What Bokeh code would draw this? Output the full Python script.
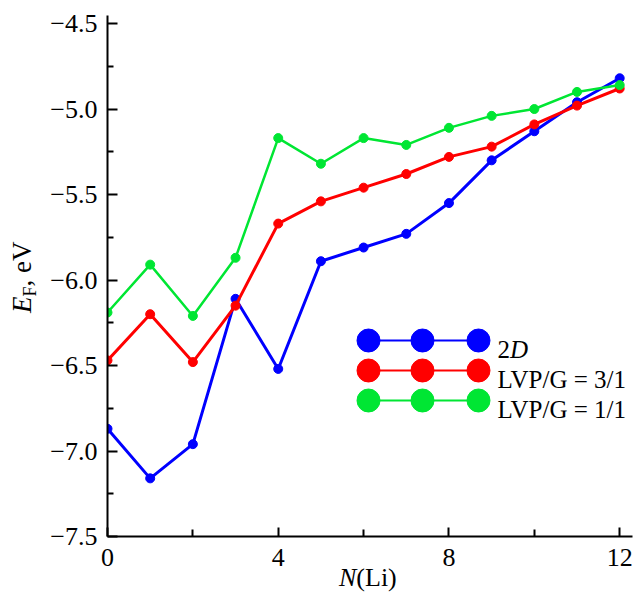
from bokeh.plotting import figure
from bokeh.models import Range1d, FixedTicker, CustomJSTickFormatter, Label, Div
from bokeh.layouts import column
from bokeh.embed import file_html
from bokeh.resources import INLINE

# ---- data ----
n_li = [0, 1, 2, 3, 4, 5, 6, 7, 8, 9, 10, 11, 12]
ef_2d = [-6.87, -7.16, -6.96, -6.11, -6.52, -5.89, -5.81, -5.73, -5.55, -5.30, -5.13, -4.96, -4.82]
ef_31 = [-6.47, -6.20, -6.48, -6.15, -5.67, -5.54, -5.46, -5.38, -5.28, -5.22, -5.09, -4.98, -4.88]
ef_11 = [-6.19, -5.91, -6.21, -5.87, -5.17, -5.32, -5.17, -5.21, -5.11, -5.04, -5.00, -4.90, -4.86]
x_ticks = [0, 4, 8, 12]
x_minor = [2, 6, 10]
y_ticks = [-7.5, -7.0, -6.5, -6.0, -5.5, -5.0, -4.5]
y_minor = [-7.25, -6.75, -6.25, -5.75, -5.25, -4.75]

series = [
    (ef_2d, "#0000ff", 3, ("2", "D")),
    (ef_31, "#ff0000", 3, ("LVP/G = 3/1", None)),
    (ef_11, "#00e633", 2.5, ("LVP/G = 1/1", None)),
]

FONT = "Liberation Serif"
W, H = 635, 594
FW, FH = 525, 521

p = figure(frame_width=FW, frame_height=FH, output_backend="svg", toolbar_location=None,
           x_range=Range1d(0, 12.3), y_range=Range1d(-7.5, -4.453),
           min_border_left=107, min_border_right=3, min_border_top=15, min_border_bottom=58)
p.outline_line_color = None
p.grid.visible = False
p.background_fill_color = "white"
p.border_fill_color = "white"

p.xaxis.ticker = FixedTicker(ticks=x_ticks, minor_ticks=x_minor)
p.yaxis.ticker = FixedTicker(ticks=y_ticks, minor_ticks=y_minor)
p.xaxis.formatter = CustomJSTickFormatter(code="return tick.toFixed(0);")
p.yaxis.formatter = CustomJSTickFormatter(code="return (tick < 0 ? '\u2212' : '') + Math.abs(tick).toFixed(1);")

for ax in (p.xaxis[0], p.yaxis[0]):
    ax.axis_line_width = 2
    ax.axis_line_color = "black"
    ax.major_tick_line_width = 2
    ax.minor_tick_line_width = 2
    ax.major_tick_out = 0
    ax.minor_tick_out = 0
    ax.major_label_text_font = FONT
    ax.major_label_text_font_size = "26px"
    ax.major_label_text_color = "black"
p.xaxis.major_tick_in = 9
p.xaxis.minor_tick_in = 7
p.yaxis.major_tick_in = 10
p.yaxis.minor_tick_in = 6
p.yaxis.major_label_standoff = 10
p.xaxis.major_label_standoff = 12

for ys, col, lw, _ in series:
    p.line(n_li, ys, line_color=col, line_width=lw)
    p.scatter(n_li, ys, size=9, fill_color=col, line_color=col)

# ---- legend (frame pixel coordinates) ----
p.extra_x_ranges = {"lx": Range1d(0, FW)}
p.extra_y_ranges = {"ly": Range1d(0, FH)}
leg_row_y = [196, 166, 136]
leg_mark_x = [261, 315, 371]
leg_text_x = 390
for (ys, col, lw, lab), ry in zip(series, leg_row_y):
    p.line(leg_mark_x, [ry] * 3, line_color=col, line_width=2,
           x_range_name="lx", y_range_name="ly")
    p.scatter(leg_mark_x, [ry] * 3, size=23, fill_color=col, line_color=col,
              x_range_name="lx", y_range_name="ly")
    p.add_layout(Label(x=leg_text_x, y=ry - 9, x_units="screen", y_units="screen",
                       text=lab[0], text_font=FONT, text_font_size="25px",
                       text_color="black", text_baseline="alphabetic"))
    if lab[1]:
        p.add_layout(Label(x=leg_text_x + 12.5, y=ry - 9, x_units="screen", y_units="screen",
                           text=lab[1], text_font=FONT, text_font_size="25px",
                           text_font_style="italic",
                           text_color="black", text_baseline="alphabetic"))

# ---- axis titles (HTML overlay, real text) ----
base = f"position:absolute;white-space:nowrap;font-family:'{FONT}';color:black;"
xlab = (f'<div style="{base}left:339px;top:565px;font-size:26px;line-height:26px;">'
        '<i>N</i>(Li)</div>')
ylab = (f'<div style="{base}left:9px;top:313px;font-size:27px;line-height:27px;'
        'transform-origin:0 0;transform:rotate(-90deg);">'
        '<i>E</i><span style="font-size:18px;position:relative;top:5px;">F</span>, eV</div>')
overlay = Div(text=f'<div style="position:relative;width:{W}px;height:{H}px;">{xlab}{ylab}</div>',
              width=W, height=H, margin=(-H, 0, 0, 0))

layout = column(p, overlay, spacing=0)
open("out.html", "w").write(file_html(layout, INLINE))
